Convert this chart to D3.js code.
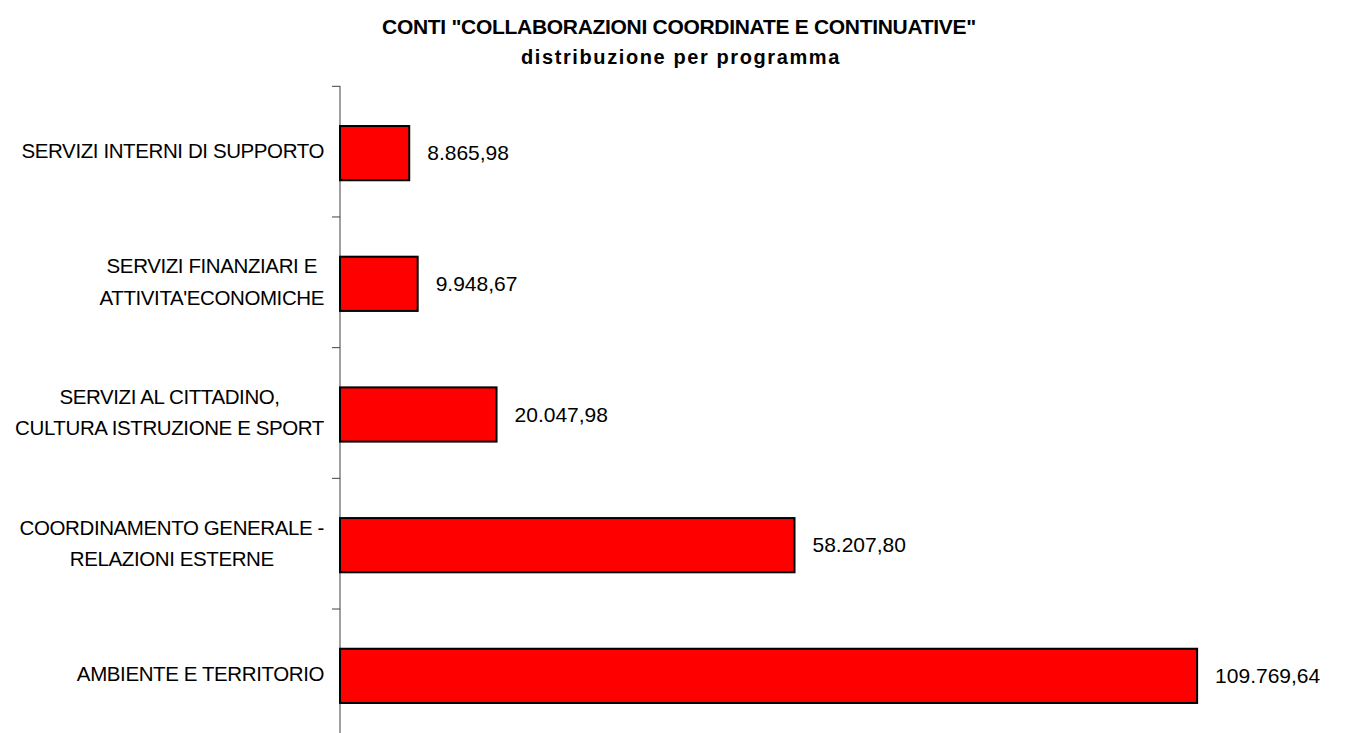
<!DOCTYPE html>
<html>
<head>
<meta charset="utf-8">
<script src="https://cdn.jsdelivr.net/npm/d3@7"></script>
<style>
  html, body { margin: 0; padding: 0; background: #fff; }
  svg { display: block; }
</style>
</head>
<body>
<svg id="chart" width="1345" height="733"></svg>
<script>
const titleLines = ['CONTI "COLLABORAZIONI COORDINATE E CONTINUATIVE"', 'distribuzione per programma'];
const categories = [
  ['SERVIZI INTERNI DI SUPPORTO'],
  ['SERVIZI FINANZIARI E', "ATTIVITA'ECONOMICHE"],
  ['SERVIZI AL CITTADINO,', 'CULTURA ISTRUZIONE E SPORT'],
  ['COORDINAMENTO GENERALE -', 'RELAZIONI ESTERNE'],
  ['AMBIENTE E TERRITORIO']
];
const values = [8865.98, 9948.67, 20047.98, 58207.80, 109769.64];
const valueLabels = ['8.865,98', '9.948,67', '20.047,98', '58.207,80', '109.769,64'];

const svg = d3.select('#chart');
const keys = categories.map((c, i) => i);

const y = d3.scaleBand().domain(keys).range([86.3, 739.7]).paddingInner(0.585).paddingOuter(0.2925);
const x = d3.scaleLinear().domain([0, 120000]).range([340, 1277]);

// Title
svg.append('text').attr('x', 679).attr('y', 34).attr('text-anchor', 'middle')
  .style('font-family', '"Liberation Sans", Arial, sans-serif').style('font-weight', 'bold')
  .style('font-size', '21px').style('letter-spacing', '-0.3px').attr('fill', '#000')
  .text(titleLines[0]);
svg.append('text').attr('x', 681).attr('y', 64).attr('text-anchor', 'middle')
  .style('font-family', '"Liberation Sans", Arial, sans-serif').style('font-weight', 'bold')
  .style('font-size', '20px').style('letter-spacing', '1.6px').attr('fill', '#000')
  .text(titleLines[1]);

// Axis
const axisG = svg.append('g').attr('transform', 'translate(340,0)');
const yAxis = d3.axisLeft(y).tickSize(0).tickFormat('');
axisG.call(yAxis);
axisG.select('.domain').remove();
axisG.append('line').attr('x1', 0).attr('x2', 0).attr('y1', 86).attr('y2', 733)
  .attr('stroke', '#808080').attr('stroke-width', 1.5);
const step = y.step();
const boundaries = keys.map(k => y(k) - (step - y.bandwidth()) / 2);
boundaries.push(boundaries[boundaries.length - 1] + step);
axisG.selectAll('line.tick-mark').data(boundaries).join('line').attr('class', 'tick-mark')
  .attr('x1', -8).attr('x2', 0).attr('y1', d => d).attr('y2', d => d)
  .attr('stroke', '#404040').attr('stroke-width', 1);

// Bars
svg.selectAll('rect.bar').data(values).join('rect').attr('class', 'bar')
  .attr('x', x(0))
  .attr('y', (d, i) => y(i) + 1.5)
  .attr('width', d => x(d) - x(0))
  .attr('height', y.bandwidth())
  .attr('fill', '#ff0000').attr('stroke', '#000').attr('stroke-width', 2);

// Value labels
svg.selectAll('text.val').data(values).join('text').attr('class', 'val')
  .attr('x', d => x(d) + 18)
  .attr('y', (d, i) => y(i) + 1.5 + y.bandwidth() / 2 + 7)
  .style('font-family', '"Liberation Sans", Arial, sans-serif').style('font-size', '21px')
  .attr('fill', '#000')
  .text((d, i) => valueLabels[i]);

// Category labels: block right-aligned to the axis, lines centred within the block
const lh = 31.3;
const rightEdge = 324;
categories.forEach((lines, i) => {
  const c = y(i) + 1.5 + y.bandwidth() / 2;
  const t = svg.append('text').attr('text-anchor', 'middle')
    .style('font-family', '"Liberation Sans", Arial, sans-serif').style('font-size', '20.5px')
    .style('letter-spacing', '-0.4px').attr('fill', '#000');
  const spans = lines.map((ln, j) =>
    t.append('tspan').attr('y', c + 5.2 - (lines.length - 1) * lh / 2 + j * lh).text(ln));
  const maxW = d3.max(spans, s => s.node().getComputedTextLength());
  spans.forEach(s => s.attr('x', rightEdge - maxW / 2));
});
</script>
</body>
</html>
